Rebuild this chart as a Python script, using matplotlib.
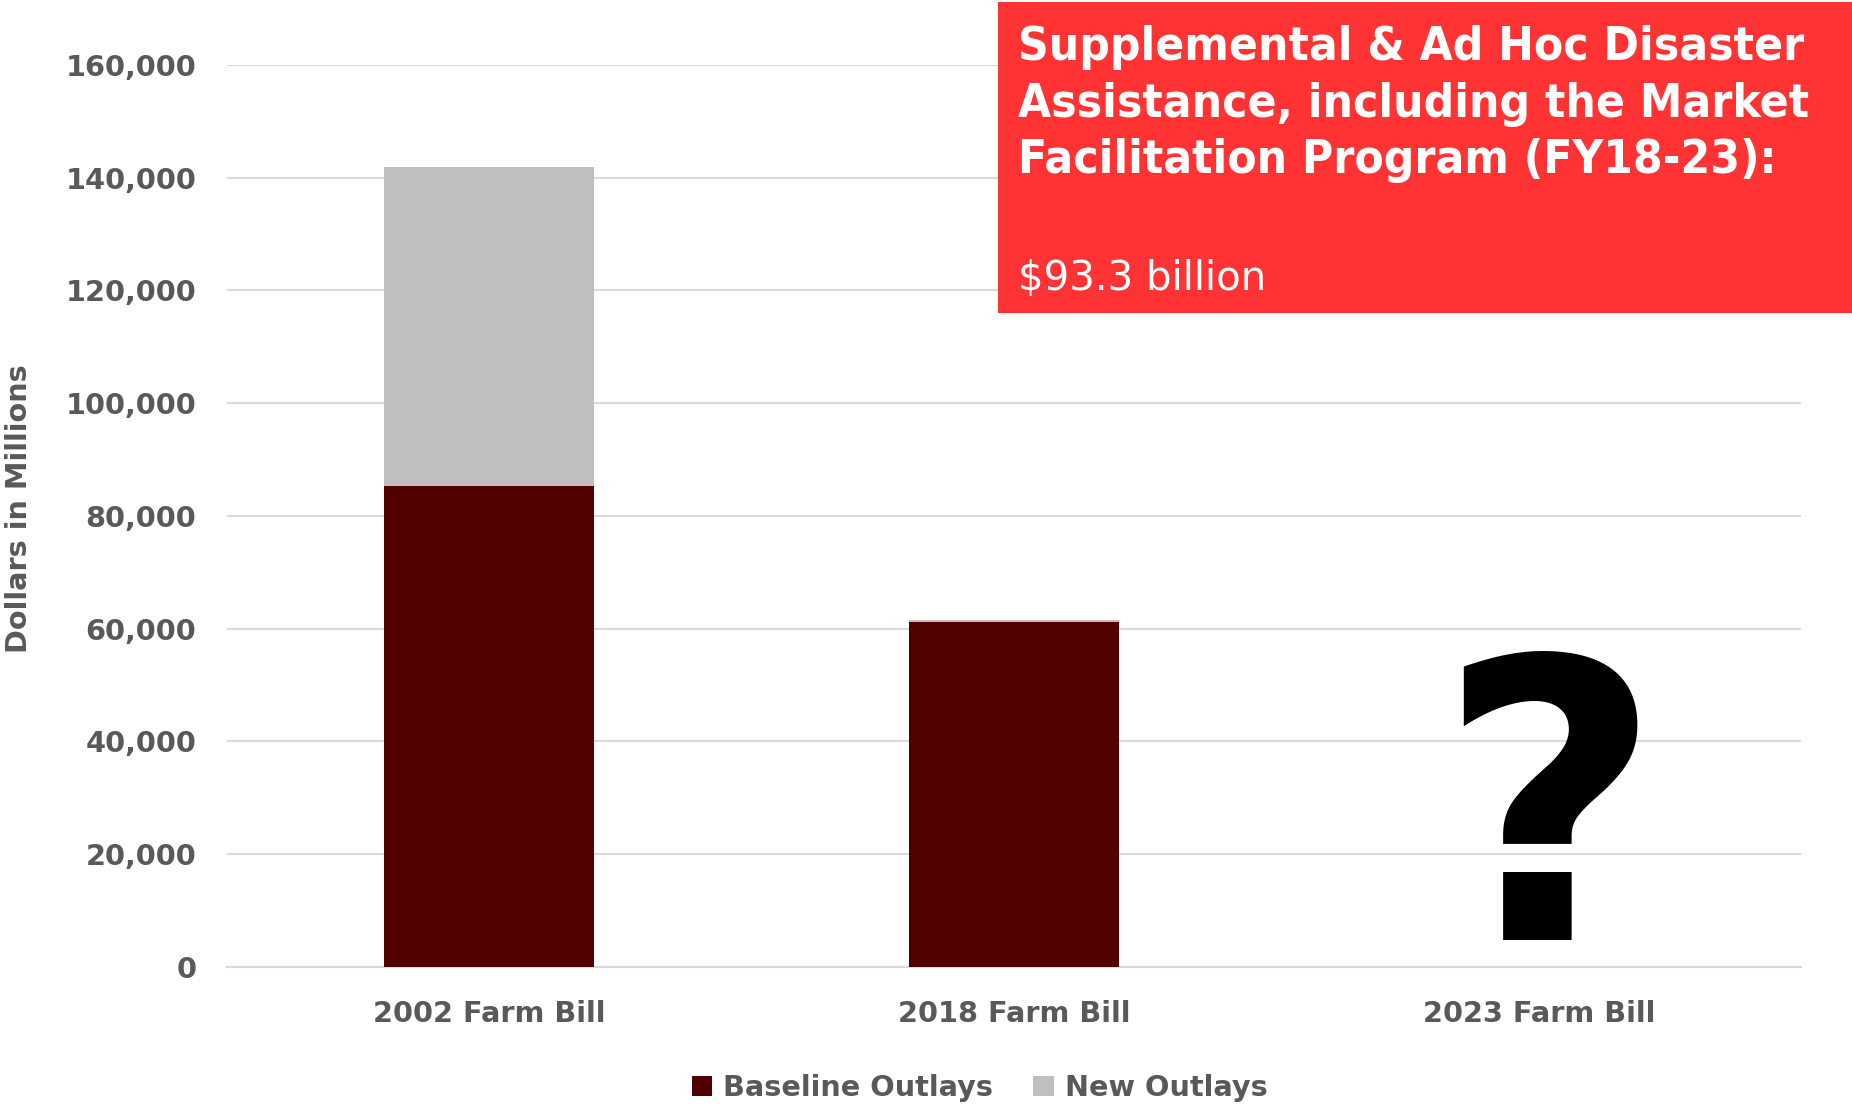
import matplotlib
matplotlib.use("Agg")
import matplotlib.pyplot as plt
from matplotlib.patches import Rectangle
from matplotlib.ticker import FuncFormatter

# Farm bill outlays, millions of dollars
bills = ["2002 Farm Bill", "2018 Farm Bill", "2023 Farm Bill"]
baseline_outlays = [85300, 61200, 0]
new_outlays = [56600, 350, 0]

yticks = [0, 20000, 40000, 60000, 80000, 100000, 120000, 140000, 160000]

box_lines = ["Supplemental & Ad Hoc Disaster",
             "Assistance, including the Market",
             "Facilitation Program (FY18-23):"]
box_amount = "$93.3 billion"

dark_red = "#520000"
light_gray = "#BFBFBF"
label_gray = "#595959"
grid_gray = "#D9D9D9"
fs = 20.7

fig = plt.figure(figsize=(18.52, 11.07), dpi=100)
ax = fig.add_axes([0.1226, 0.1265, 0.8499, 0.8148])

x = list(range(len(bills)))
ax.bar(x, baseline_outlays, width=0.4, color=dark_red, label="Baseline Outlays", zorder=3)
ax.bar(x, new_outlays, width=0.4, bottom=baseline_outlays, color=light_gray,
       label="New Outlays", zorder=3)

ax.set_xlim(-0.5, 2.5)
ax.set_ylim(0, 160000)
ax.set_yticks(yticks)
ax.yaxis.set_major_formatter(FuncFormatter(lambda v, p: f"{int(v):,}"))
ax.set_xticks(x)
ax.set_xticklabels(bills)

ax.grid(axis="y", color=grid_gray, linewidth=1.5, zorder=0)
for side in ["top", "right", "left"]:
    ax.spines[side].set_visible(False)
ax.spines["bottom"].set_color(grid_gray)
ax.spines["bottom"].set_linewidth(1.5)
ax.tick_params(axis="both", length=0, labelsize=fs, labelcolor=label_gray)
ax.tick_params(axis="y", pad=22)
ax.tick_params(axis="x", pad=24)
for lbl in ax.get_xticklabels() + ax.get_yticklabels():
    lbl.set_fontweight("bold")

fig.text(0.0105, 0.5405, "Dollars in Millions", rotation=90, ha="center", va="center",
         fontsize=fs, fontweight="bold", color=label_gray)

# big question mark over the pending bill
ax.text(2.02, 4800, "?", ha="center", va="baseline",
        fontsize=280, fontweight="bold", color="black", zorder=4)

leg = fig.legend(loc="center", bbox_to_anchor=(0.529, 0.017), ncol=2, frameon=False,
                 fontsize=fs, handlelength=0.7, handleheight=0.7, columnspacing=1.4,
                 handletextpad=0.4)
for t in leg.get_texts():
    t.set_color(label_gray)
    t.set_fontweight("bold")

# callout box in the top right corner
fig.patches.append(Rectangle((0.539, 0.717), 0.461, 0.281, transform=fig.transFigure,
                             facecolor="#FF3333", edgecolor="none", zorder=5))
for line, yb in zip(box_lines, [0.9458, 0.8943, 0.8437]):
    fig.text(0.5497, yb, line, ha="left", va="baseline", fontsize=34.2,
             fontweight="bold", color="white", fontstretch="condensed", zorder=6)
fig.text(0.5497, 0.738, box_amount, ha="left", va="baseline", fontsize=29,
         color="white", zorder=6)

fig.savefig("out.png", dpi=100)
